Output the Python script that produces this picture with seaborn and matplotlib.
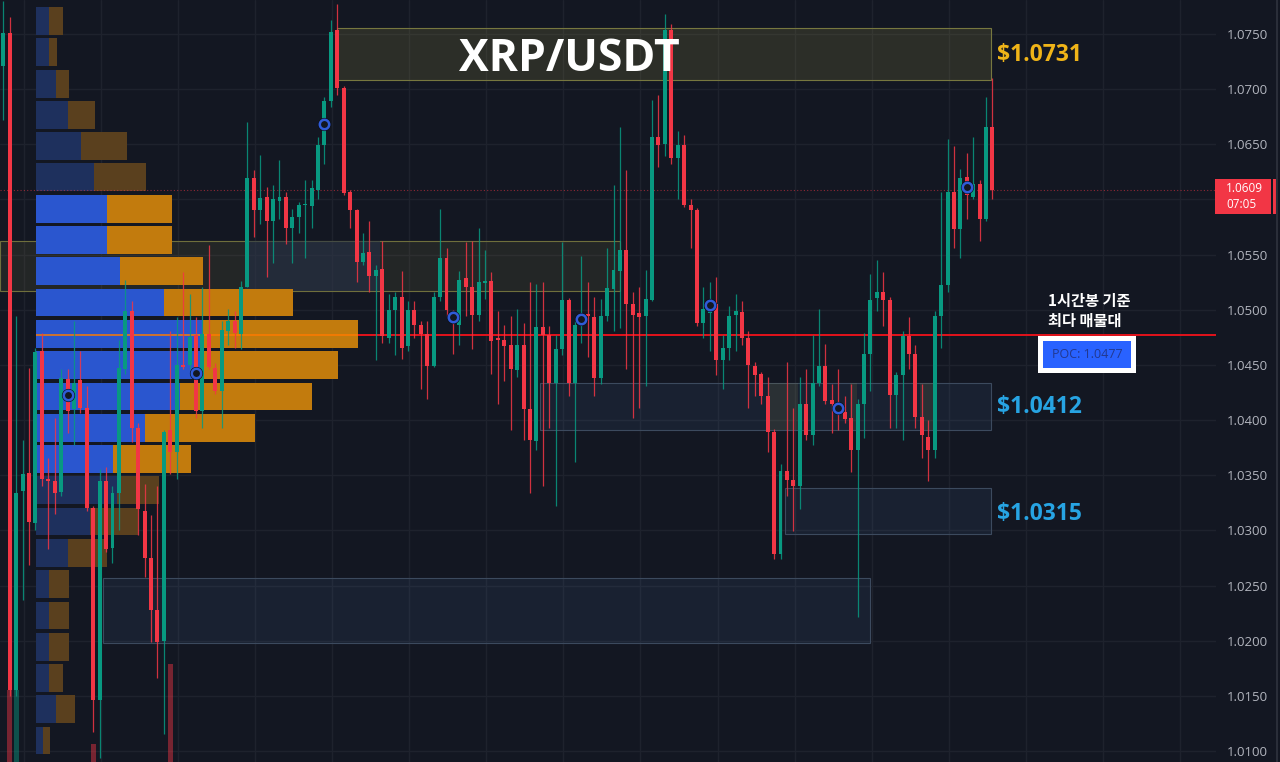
import matplotlib as mpl
mpl.use('agg')
import matplotlib.pyplot as plt
from matplotlib.patches import Rectangle
from matplotlib.lines import Line2D
import numpy as np
import pandas as pd
import seaborn as sns

# ---- candles (1h), oldest first ----
opens = [
    1.0721, 1.0751, 1.0155, 1.0336, 1.0352, 1.0307, 1.0463, 1.0347, 1.0345, 1.0335,
    1.0437, 1.0410, 1.0436, 1.0411, 1.0320, 1.0146, 1.0345, 1.0284, 1.0334, 1.0446,
    1.0499, 1.0393, 1.0318, 1.0275, 1.0228, 1.0200, 1.0391, 1.0371, 1.0450, 1.0450,
    1.0477, 1.0408, 1.0478, 1.0447, 1.0426, 1.0481, 1.0490, 1.0478, 1.0521, 1.0619,
    1.0590, 1.0602, 1.0580, 1.0599, 1.0602, 1.0574, 1.0584, 1.0595, 1.0594, 1.0609,
    1.0649, 1.0689, 1.0754, 1.0701, 1.0607, 1.0590, 1.0543, 1.0552, 1.0531, 1.0537,
    1.0474, 1.0500, 1.0512, 1.0467, 1.0500, 1.0486, 1.0478, 1.0449, 1.0512, 1.0547,
    1.0497, 1.0486, 1.0529, 1.0521, 1.0495, 1.0524, 1.0526, 1.0474, 1.0473, 1.0468,
    1.0445, 1.0468, 1.0410, 1.0381, 1.0484, 1.0477, 1.0434, 1.0464, 1.0509, 1.0434,
    1.0488, 1.0496, 1.0493, 1.0438, 1.0494, 1.0519, 1.0535, 1.0554, 1.0505, 1.0497,
    1.0494, 1.0509, 1.0657, 1.0650, 1.0754, 1.0638, 1.0649, 1.0595, 1.0590, 1.0488,
    1.0497, 1.0505, 1.0454, 1.0465, 1.0495, 1.0498, 1.0474, 1.0449, 1.0442, 1.0422,
    1.0389, 1.0279, 1.0354, 1.0346, 1.0340, 1.0415, 1.0386, 1.0434, 1.0449, 1.0418,
    1.0413, 1.0407, 1.0402, 1.0373, 1.0415, 1.0460, 1.0511, 1.0516, 1.0509, 1.0423,
    1.0441, 1.0476, 1.0460, 1.0403, 1.0385, 1.0373, 1.0494, 1.0522, 1.0607, 1.0573,
    1.0620, 1.0602, 1.0614, 1.0582, 1.0666,
]
highs = [
    1.0780, 1.0765, 1.0494, 1.0382, 1.0447, 1.0465, 1.0479, 1.0366, 1.0402, 1.0446,
    1.0446, 1.0490, 1.0463, 1.0431, 1.0322, 1.0356, 1.0357, 1.0340, 1.0473, 1.0527,
    1.0508, 1.0397, 1.0342, 1.0314, 1.0340, 1.0391, 1.0481, 1.0493, 1.0534, 1.0514,
    1.0493, 1.0521, 1.0559, 1.0452, 1.0490, 1.0501, 1.0499, 1.0526, 1.0670, 1.0627,
    1.0640, 1.0611, 1.0613, 1.0636, 1.0607, 1.0591, 1.0598, 1.0618, 1.0618, 1.0657,
    1.0693, 1.0763, 1.0777, 1.0703, 1.0609, 1.0591, 1.0570, 1.0580, 1.0541, 1.0562,
    1.0514, 1.0516, 1.0535, 1.0508, 1.0508, 1.0490, 1.0490, 1.0516, 1.0591, 1.0556,
    1.0500, 1.0535, 1.0561, 1.0562, 1.0574, 1.0554, 1.0534, 1.0499, 1.0486, 1.0494,
    1.0501, 1.0488, 1.0525, 1.0523, 1.0525, 1.0485, 1.0477, 1.0561, 1.0511, 1.0490,
    1.0549, 1.0525, 1.0512, 1.0510, 1.0556, 1.0613, 1.0666, 1.0627, 1.0516, 1.0521,
    1.0536, 1.0690, 1.0695, 1.0768, 1.0759, 1.0662, 1.0658, 1.0600, 1.0592, 1.0521,
    1.0525, 1.0530, 1.0477, 1.0503, 1.0514, 1.0508, 1.0481, 1.0453, 1.0444, 1.0439,
    1.0392, 1.0360, 1.0453, 1.0411, 1.0439, 1.0446, 1.0477, 1.0501, 1.0469, 1.0433,
    1.0446, 1.0422, 1.0433, 1.0419, 1.0479, 1.0532, 1.0545, 1.0534, 1.0512, 1.0444,
    1.0481, 1.0493, 1.0468, 1.0433, 1.0400, 1.0499, 1.0607, 1.0655, 1.0648, 1.0628,
    1.0642, 1.0657, 1.0618, 1.0693, 1.0710,
]
lows = [
    1.0672, 1.0150, 1.0150, 1.0237, 1.0269, 1.0300, 1.0340, 1.0283, 1.0315, 1.0331,
    1.0388, 1.0377, 1.0406, 1.0318, 1.0117, 1.0094, 1.0280, 1.0270, 1.0300, 1.0442,
    1.0380, 1.0296, 1.0258, 1.0199, 1.0166, 1.0115, 1.0351, 1.0347, 1.0446, 1.0446,
    1.0402, 1.0393, 1.0446, 1.0424, 1.0393, 1.0468, 1.0465, 1.0464, 1.0521, 1.0566,
    1.0578, 1.0530, 1.0542, 1.0582, 1.0560, 1.0542, 1.0570, 1.0547, 1.0574, 1.0600,
    1.0632, 1.0684, 1.0695, 1.0604, 1.0574, 1.0525, 1.0541, 1.0516, 1.0454, 1.0470,
    1.0470, 1.0459, 1.0455, 1.0463, 1.0474, 1.0428, 1.0419, 1.0448, 1.0508, 1.0494,
    1.0460, 1.0468, 1.0494, 1.0464, 1.0490, 1.0510, 1.0442, 1.0415, 1.0435, 1.0391,
    1.0439, 1.0382, 1.0334, 1.0373, 1.0340, 1.0393, 1.0322, 1.0459, 1.0422, 1.0362,
    1.0470, 1.0457, 1.0422, 1.0433, 1.0490, 1.0481, 1.0483, 1.0446, 1.0402, 1.0411,
    1.0431, 1.0508, 1.0629, 1.0639, 1.0632, 1.0600, 1.0593, 1.0556, 1.0485, 1.0474,
    1.0463, 1.0441, 1.0428, 1.0454, 1.0463, 1.0468, 1.0411, 1.0422, 1.0415, 1.0371,
    1.0274, 1.0274, 1.0331, 1.0299, 1.0319, 1.0382, 1.0377, 1.0431, 1.0415, 1.0388,
    1.0391, 1.0397, 1.0353, 1.0221, 1.0384, 1.0426, 1.0499, 1.0485, 1.0393, 1.0393,
    1.0382, 1.0446, 1.0393, 1.0366, 1.0345, 1.0366, 1.0465, 1.0516, 1.0556, 1.0547,
    1.0582, 1.0600, 1.0562, 1.0580, 1.0600,
]
closes = [
    1.0751, 1.0155, 1.0334, 1.0351, 1.0308, 1.0462, 1.0347, 1.0345, 1.0334, 1.0438,
    1.0408, 1.0434, 1.0411, 1.0320, 1.0146, 1.0345, 1.0283, 1.0334, 1.0447, 1.0499,
    1.0393, 1.0319, 1.0275, 1.0228, 1.0199, 1.0389, 1.0371, 1.0450, 1.0448, 1.0475,
    1.0408, 1.0478, 1.0448, 1.0426, 1.0482, 1.0490, 1.0479, 1.0521, 1.0619, 1.0590,
    1.0601, 1.0580, 1.0600, 1.0602, 1.0574, 1.0584, 1.0595, 1.0596, 1.0610, 1.0649,
    1.0689, 1.0752, 1.0701, 1.0606, 1.0590, 1.0543, 1.0551, 1.0531, 1.0536, 1.0476,
    1.0500, 1.0512, 1.0465, 1.0500, 1.0486, 1.0478, 1.0449, 1.0512, 1.0547, 1.0500,
    1.0492, 1.0527, 1.0521, 1.0495, 1.0525, 1.0526, 1.0472, 1.0473, 1.0467, 1.0446,
    1.0468, 1.0410, 1.0382, 1.0484, 1.0477, 1.0434, 1.0464, 1.0509, 1.0434, 1.0486,
    1.0493, 1.0494, 1.0438, 1.0494, 1.0520, 1.0536, 1.0554, 1.0505, 1.0495, 1.0493,
    1.0510, 1.0657, 1.0649, 1.0754, 1.0638, 1.0649, 1.0595, 1.0590, 1.0488, 1.0501,
    1.0505, 1.0454, 1.0465, 1.0494, 1.0499, 1.0474, 1.0450, 1.0441, 1.0422, 1.0389,
    1.0279, 1.0354, 1.0346, 1.0340, 1.0415, 1.0386, 1.0434, 1.0449, 1.0417, 1.0415,
    1.0410, 1.0401, 1.0373, 1.0415, 1.0460, 1.0509, 1.0516, 1.0509, 1.0423, 1.0441,
    1.0476, 1.0460, 1.0403, 1.0386, 1.0373, 1.0494, 1.0522, 1.0607, 1.0573, 1.0619,
    1.0604, 1.0614, 1.0582, 1.0666, 1.0609,
]

# visible volume bars at the bottom (candle index, volume in M)
vol_idx = [1, 2, 14, 26]
vol_val = [24.4, 24.4, 17.4, 27.9]

# pivot markers (candle index, price)
pivot_idx = [10, 30, 50, 70, 90, 110, 130, 150]
pivot_price = [1.0423, 1.0443, 1.0668, 1.0493, 1.0492, 1.0504, 1.0411, 1.0611]

# volume profile rows (price level, buy / sell volume in M)
vp_levels = [1.07618, 1.07334, 1.07050, 1.06767, 1.06483, 1.06200, 1.05916, 1.05632,
             1.05349, 1.05065, 1.04781, 1.04498, 1.04214, 1.03930, 1.03647, 1.03363,
             1.03080, 1.02796, 1.02512, 1.02229, 1.01945, 1.01661, 1.01378, 1.01094]
vp_buy = [1.3, 1.3, 2.0, 3.2, 4.5, 5.8, 7.1, 7.1, 8.4, 12.8, 16.7, 16.4,
          14.4, 10.9, 7.7, 8.1, 5.4, 3.2, 1.3, 1.3, 1.3, 1.3, 2.0, 0.7]
vp_sell = [1.4, 0.8, 1.3, 2.7, 4.6, 5.2, 6.5, 6.5, 8.3, 12.9, 15.5, 13.8,
           13.2, 11.0, 7.8, 4.2, 4.8, 3.9, 2.0, 2.0, 2.0, 1.4, 1.9, 0.7]
vp_in_value_area = [False] * 6 + [True] * 9 + [False] * 9
poc_price = 1.0477

# zones: (start idx, end idx, low, high)
supply_zone = (52.0, 153.8, 1.07083, 1.07554)
mid_zone = (-0.5, 96.0, 1.05170, 1.05623)
mid_block = (37.6, 58.6, 1.05170, 1.05623)
support_zones = [(83.6, 153.8, 1.03910, 1.04336),
                 (121.7, 153.8, 1.02967, 1.03384),
                 (15.5, 134.9, 1.01979, 1.02568)]
fvg_zones = [(119.1, 123.7, 1.03910, 1.04336),
             (131.8, 132.9, 1.03910, 1.04336),
             (142.7, 144.7, 1.03910, 1.04336)]
zone_labels = [('$1.0731', 1.0731, '#f0b418'),
               ('$1.0412', 1.0412, '#27a4e3'),
               ('$1.0315', 1.0315, '#27a4e3')]

df = pd.DataFrame({'o': opens, 'h': highs, 'l': lows, 'c': closes})
df['i'] = np.arange(len(df))
last_price = closes[-1]

# ---- style ----
bg = '#131722'
green = '#089981'
red = '#f23645'
sns.set_theme(style='dark', rc={'axes.facecolor': bg, 'figure.facecolor': bg,
                                'savefig.facecolor': bg, 'axes.grid': False})
plt.rcParams['font.family'] = ['Open Sans', 'Noto Sans CJK KR', 'DejaVu Sans']

fig = plt.figure(figsize=(12.8, 7.62), dpi=100)
rect = [0, 0, 1216 / 1280, 1]
ax_back = fig.add_axes(rect)
ax_prof = fig.add_axes(rect, sharey=ax_back)
ax_vol = fig.add_axes(rect, sharex=ax_back)
ax = fig.add_axes(rect, sharex=ax_back, sharey=ax_back)

for a in (ax_back, ax_prof, ax_vol, ax):
    for s in a.spines.values():
        s.set_visible(False)
for a in (ax_prof, ax_vol, ax):
    a.patch.set_visible(False)
    a.grid(False)
    a.tick_params(left=False, right=False, top=False, bottom=False,
                  labelleft=False, labelright=False, labeltop=False, labelbottom=False)

ax_back.set_xlim(-0.514, 188.8)
ax_back.set_ylim(1.00900, 1.07808)
ax_prof.set_xlim(-3.6, 118.0)
ax_vol.set_ylim(15, 115)

# grid + right price scale (the label under the last-price badge is hidden)
ax_back.set_xticks(np.arange(3.2, 188, 12))
ax_back.set_yticks(np.arange(1.0100, 1.07501, 0.005))
ax_back.yaxis.set_major_formatter(mpl.ticker.FuncFormatter(
    lambda v, p: '' if abs(v - last_price) < 0.0015 else f'{v:.4f}'))
ax_back.yaxis.tick_right()
ax_back.grid(True, color='#1e222d', linewidth=1)
ax_back.tick_params(axis='x', length=0, labelbottom=False)
ax_back.tick_params(axis='y', length=0, pad=8, labelcolor='#b2b5be', labelsize=9.5)

# zones
def box(a, z, face, alpha, edge):
    a.add_patch(Rectangle((z[0], z[2]), z[1] - z[0], z[3] - z[2], facecolor=face,
                          alpha=alpha, edgecolor='none', zorder=1))
    a.add_patch(Rectangle((z[0], z[2]), z[1] - z[0], z[3] - z[2], facecolor='none',
                          edgecolor=edge, linewidth=0.8, zorder=1))

box(ax_back, supply_zone, '#a8a04a', 0.17, '#77773f')
box(ax_back, mid_zone, '#a8a04a', 0.11, '#6f6f3c')
ax_back.add_patch(Rectangle((mid_block[0], mid_block[2]), mid_block[1] - mid_block[0],
                            mid_block[3] - mid_block[2], facecolor='#243049', alpha=0.55,
                            edgecolor='none', zorder=1))
for z in support_zones:
    box(ax_back, z, '#4a6fa5', 0.12, '#3c4a5e')
for z in fvg_zones:
    ax_back.add_patch(Rectangle((z[0], z[2]), z[1] - z[0], z[3] - z[2],
                                facecolor='#a8a04a', alpha=0.12, edgecolor='none', zorder=1))

# volume profile
buy_cols = ['#2a56cf' if v else '#1e305d' for v in vp_in_value_area]
sell_cols = ['#c27b0d' if v else '#5a401e' for v in vp_in_value_area]
ax_prof.barh(vp_levels, vp_buy, height=0.00252, color=buy_cols, linewidth=0)
ax_prof.barh(vp_levels, vp_sell, left=vp_buy, height=0.00252, color=sell_cols, linewidth=0)
poc_row = vp_levels.index(min(vp_levels, key=lambda p: abs(p - poc_price)))
poc_total = vp_buy[poc_row] + vp_sell[poc_row]
ax_prof.hlines(poc_price, 0, poc_total, color='#ff7a00', linewidth=1.2, alpha=0.9)
ax_prof.hlines(poc_price, poc_total, 118.0, color='#e3121b', linewidth=1.4)

# volume bars
vol_cols = [green if closes[i] >= opens[i] else red for i in vol_idx]
ax_vol.bar(vol_idx, vol_val, width=0.8, color=vol_cols, alpha=0.45, linewidth=0)

# candles
cols = np.where(df['c'] >= df['o'], green, red)
ax.vlines(df['i'], df['l'], df['h'], colors=cols, linewidth=0.9, alpha=0.85, zorder=3)
body = np.maximum((df['c'] - df['o']).abs(), 0.00008)
ax.bar(df['i'], body, bottom=np.minimum(df['o'], df['c']), width=0.62,
       color=cols, linewidth=0, zorder=4)

# last price line
ax.axhline(last_price, color=red, linestyle=(0, (1, 2)), linewidth=0.8, alpha=0.55, zorder=2)

# pivot markers (dark halo, then blue ring)
sns.scatterplot(x=pivot_idx, y=pivot_price, ax=ax, s=90, color='#0b0e16',
                linewidth=0, zorder=5, legend=False)
sns.scatterplot(x=pivot_idx, y=pivot_price, ax=ax, s=46, color=bg,
                edgecolor='#2f5bd8', linewidth=1.8, zorder=6, legend=False)

# zone labels
for (txt, lvl, col), x_end in zip(zone_labels, [supply_zone[1], support_zones[0][1], support_zones[1][1]]):
    ax.text(x_end + 0.9, lvl, txt, color=col, fontsize=16.5, fontweight='bold',
            va='center', ha='left', zorder=7)

ax.text(0.468, 0.922, 'XRP/USDT', transform=ax.transAxes, ha='center', va='center',
        color='white', fontsize=32, fontweight='bold', zorder=7)

# figure-pixel helpers for the overlay widgets
fx = lambda x: x / 1280
fy = lambda y: 1 - y / 762

fig.text(fx(1048), fy(301), '1시간봉 기준', family=['Noto Sans CJK KR', 'DejaVu Sans'],
         fontweight='bold', fontsize=11, color='white', va='center')
fig.text(fx(1048), fy(321), '최다 매물대', family=['Noto Sans CJK KR', 'DejaVu Sans'],
         fontweight='bold', fontsize=11, color='white', va='center')

fig.add_artist(Rectangle((fx(1038), fy(373)), 98 / 1280, 37 / 762,
                         transform=fig.transFigure, facecolor='white', edgecolor='none'))
fig.add_artist(Rectangle((fx(1043), fy(368)), 88 / 1280, 27 / 762,
                         transform=fig.transFigure, facecolor='#2962ff', edgecolor='none'))
fig.text(fx(1087), fy(355), f'POC: {poc_price:.4f}', ha='center', va='center',
         color='#22388f', fontsize=9)

# last price badge
fig.add_artist(Rectangle((fx(1215), fy(214)), 56 / 1280, 35 / 762,
                         transform=fig.transFigure, facecolor=red, edgecolor='none'))
fig.add_artist(Rectangle((fx(1273), fy(214)), 4 / 1280, 35 / 762,
                         transform=fig.transFigure, facecolor=red, edgecolor='none'))
fig.text(fx(1226), fy(188), f'{last_price:.4f}', color='white', fontsize=8.5, va='center')
fig.text(fx(1226), fy(205), '07:05', color='white', fontsize=8.5, va='center')

fig.add_artist(Line2D([fx(1277), fx(1277)], [0, 1], transform=fig.transFigure,
                      color='#2a2e39', linewidth=1.5))

fig.savefig('out.png', dpi=100, facecolor=bg)
